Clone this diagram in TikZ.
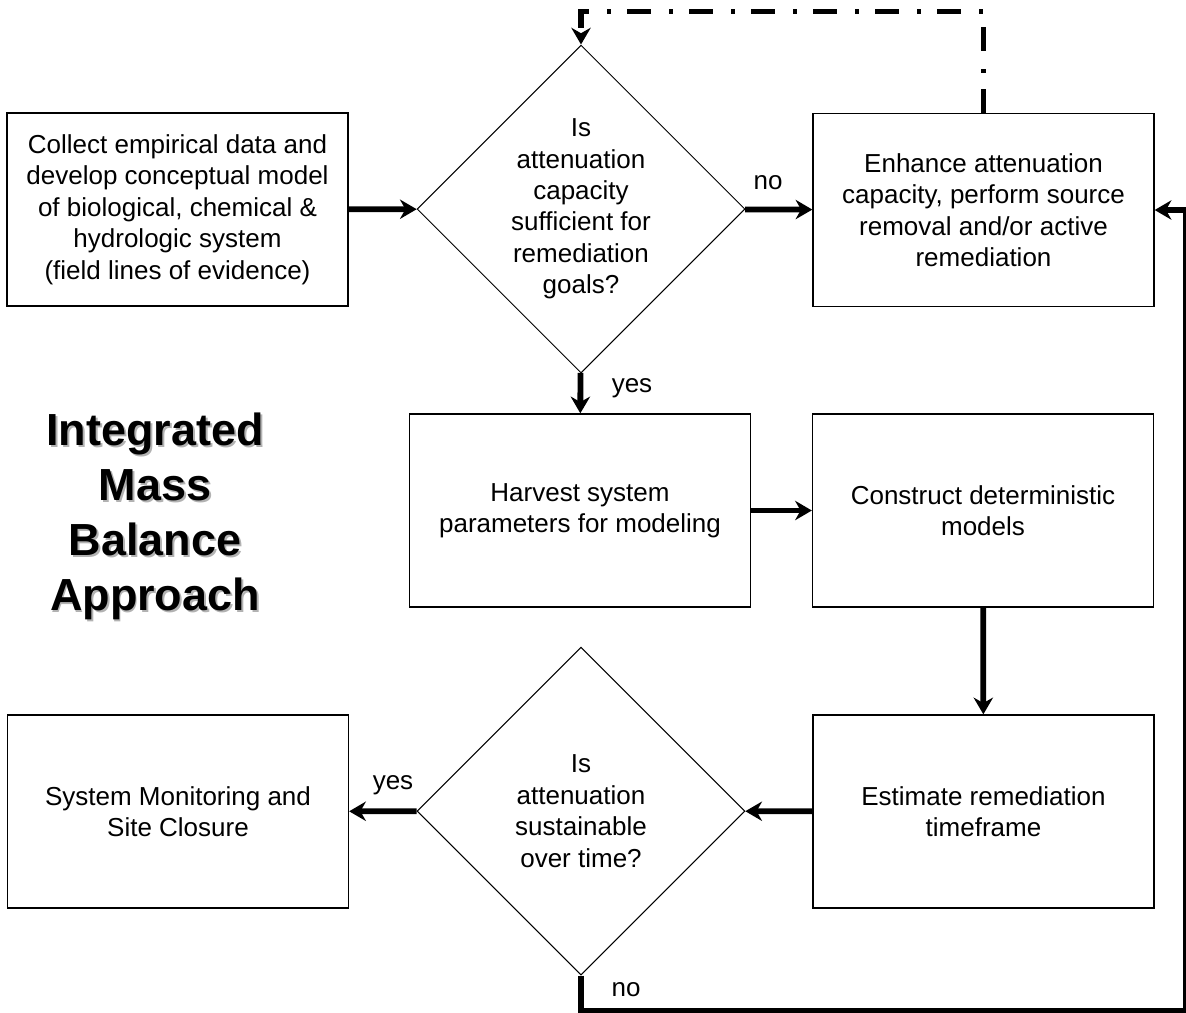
\documentclass[tikz,border=0pt]{standalone}
\usepackage{fontspec}
\setmainfont{Liberation Sans}
\usetikzlibrary{arrows.meta,shapes.geometric,positioning}

% grey drop shadow behind a word of the title
\newcommand{\shadowword}[1]{\leavevmode\rlap{\kern1.1pt\raisebox{-1.1pt}{\textcolor{black!30}{#1}}}#1}

\begin{document}
\begin{tikzpicture}[x=0.02cm,y=-0.02cm,
  every node/.style={font=\fontsize{14.8}{17.9}\selectfont},
  box/.style={draw,line width=0.8pt,minimum width=6.82cm,minimum height=3.86cm,align=center,inner sep=0pt},
  decision/.style={draw,diamond,line width=0.6pt,minimum width=6.56cm,minimum height=6.56cm,align=center,inner sep=0pt},
  flow/.style={line width=3.3pt,-{Stealth[length=9.5pt,width=11pt]}},
  feedback/.style={flow,dash pattern=on 13.7pt off 9.1pt on 2.3pt off 10.2pt},
  lbl/.style={inner sep=0pt}]
\useasboundingbox (0,0) rectangle (1186,1012);

% boxes
\node[box] (collect) at (177.5,209.5) {Collect empirical data and\\develop conceptual model\\of biological, chemical \&\\hydrologic system\\(field lines of evidence)};
\node[box] (enhance) at (983.5,210) {Enhance attenuation\\capacity, perform source\\removal and/or active\\remediation};
\node[box] (harvest) at (580,510.5) {Harvest system\\parameters for modeling};
\node[box] (construct) at (983,510.5) {Construct deterministic\\models};
\node[box] (estimate) at (983.5,811.5) {Estimate remediation\\timeframe};
\node[box] (closure) at (178,811.5) {System Monitoring and\\Site Closure};

% decisions
\node[decision] (capacity) at (581,209) {Is\\attenuation\\capacity\\sufficient for\\remediation\\goals?};
\node[decision] (sustain) at (581,811) {Is\\attenuation\\sustainable\\over time?};

% title
\node[align=center,font=\bfseries\fontsize{25.6}{31.3}\selectfont] (title) at (155,517)
  {\shadowword{Integrated}\\\shadowword{Mass}\\\shadowword{Balance}\\\shadowword{Approach}};

% flow
\draw[flow] (collect) -- (capacity);
\draw[flow] (capacity) -- (enhance);
\draw[flow] (capacity) -- (harvest);
\draw[flow] (harvest) -- (construct);
\draw[flow] (construct) -- (estimate);
\draw[flow] (estimate) -- (sustain);
\draw[flow] (sustain) -- (closure);

% loop back when not sustainable
\coordinate (loopcorner) at (1185.5,1010.5);
\draw[flow] (sustain.south) |- (loopcorner) |- (enhance.east);

% back to the first decision
\coordinate (dashtop) at (581,11.5);
\draw[feedback] (enhance.north) |- (dashtop) -- (capacity.north);

% labels
\node[lbl] (no1) at (768,183) {no};
\node[lbl] (yes1) at (632,388) {yes};
\node[lbl] (yes2) at (393,785) {yes};
\node[lbl] (no2) at (626,990) {no};
\end{tikzpicture}
\end{document}
